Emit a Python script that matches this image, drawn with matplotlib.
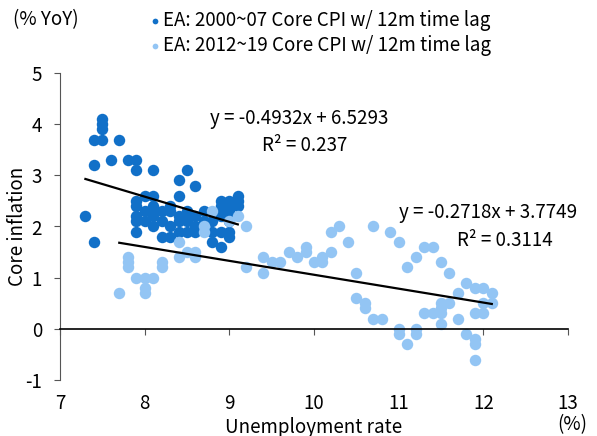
import matplotlib
matplotlib.use('Agg')
import matplotlib.pyplot as plt
import numpy as np

plt.rcParams['font.family'] = ['Noto Sans CJK KR', 'DejaVu Sans']
plt.rcParams['axes.unicode_minus'] = False

# EA 2000~07: unemployment rate vs core CPI (12m lag)
x_old = [7.3, 7.4, 7.4, 7.4, 7.5, 7.5, 7.5, 7.5, 7.6, 7.7, 7.8, 7.9, 7.9, 8.1, 8.4, 8.5, 8.6, 8.4, 8.1,
         7.9, 7.9, 7.9, 7.9, 7.9,
         8.0, 8.0, 8.0,
         8.1, 8.1, 8.1, 8.1,
         8.2, 8.2, 8.2,
         8.3, 8.3, 8.3, 8.3,
         8.4, 8.4, 8.4,
         8.5, 8.5, 8.5, 8.5,
         8.6, 8.6, 8.6,
         8.7, 8.7, 8.7,
         8.8, 8.8, 8.8,
         8.9, 8.9, 8.9, 8.9, 8.9, 8.9,
         9.0, 9.0, 9.0, 9.0, 9.0, 9.0, 9.0,
         9.1, 9.1, 9.1]
y_old = [2.2, 1.7, 3.2, 3.7, 3.7, 3.9, 4.0, 4.1, 3.3, 3.7, 3.3, 3.3, 3.1, 3.1, 2.9, 3.1, 2.8, 2.6, 2.6,
         2.5, 2.4, 2.2, 2.1, 1.9,
         2.6, 2.3, 2.1,
         2.4, 2.3, 2.2, 2.0,
         2.3, 2.1, 1.8,
         2.4, 2.3, 2.0, 1.8,
         2.2, 2.1, 1.9,
         2.3, 2.2, 2.1, 1.9,
         2.2, 2.0, 1.9,
         2.3, 2.1, 2.0,
         2.1, 1.9, 1.7,
         2.5, 2.4, 2.3, 2.2, 1.9, 1.6,
         2.5, 2.4, 2.3, 2.2, 2.1, 1.9, 1.8,
         2.6, 2.5, 2.4]

# EA 2012~19
x_new = [7.7, 7.8, 7.8, 7.8, 7.9, 8.0, 8.1, 8.0, 8.0, 8.2, 8.2, 8.4, 8.4, 8.5, 8.6, 8.6, 8.7,
         8.7, 8.8, 9.0, 9.1, 9.2, 9.2, 9.4, 9.4,
         9.5, 9.6, 9.7, 9.8, 9.9, 9.9, 10.0, 10.1, 10.1, 10.2, 10.2, 10.3, 10.4, 10.5,
         10.5, 10.6, 10.6, 10.7, 10.8, 10.7, 10.9, 11.0, 11.1, 11.2,
         11.0, 11.0, 11.1, 11.2, 11.2, 11.3, 11.4, 11.3, 11.4,
         11.5, 11.6, 11.8, 11.9, 12.0, 12.1, 12.1, 12.0, 12.0, 11.9, 11.7, 11.7, 11.6,
         11.5, 11.5, 11.5, 11.5, 11.8, 11.9, 11.9, 11.9]
y_new = [0.7, 1.4, 1.3, 1.2, 1.0, 1.0, 1.0, 0.8, 0.7, 1.3, 1.2, 1.7, 1.4, 1.5, 1.5, 1.4, 1.9,
         2.0, 2.3, 2.1, 2.2, 2.0, 1.2, 1.4, 1.1,
         1.3, 1.3, 1.5, 1.4, 1.6, 1.5, 1.3, 1.4, 1.3, 1.5, 1.9, 2.0, 1.7, 1.1,
         0.6, 0.5, 0.4, 0.2, 0.2, 2.0, 1.9, 1.7, 1.2, 1.4,
         0.0, -0.1, -0.3, 0.0, -0.1, 0.3, 0.3, 1.6, 1.6,
         1.3, 1.1, 0.9, 0.8, 0.8, 0.7, 0.5, 0.5, 0.3, 0.3, 0.7, 0.2, 0.5,
         0.5, 0.4, 0.3, 0.1, -0.1, -0.2, -0.3, -0.6]

# trend lines as printed on the chart
fit_old = [-0.4932, 6.5293]
fit_new = [-0.2718, 3.7749]

dark = '#1170C8'
light = '#93C5F4'
fs = 13.5

fig = plt.figure(figsize=(5.97, 4.36), dpi=100)
ax = fig.add_axes([60/597, 1-380/436, 508/597, 307/436])

ax.scatter(x_old, y_old, s=68, color=dark, linewidths=0, zorder=2,
           label='EA: 2000~07 Core CPI w/ 12m time lag')
ax.scatter(x_new, y_new, s=68, color=light, linewidths=0, zorder=2,
           label='EA: 2012~19 Core CPI w/ 12m time lag')

# regression lines over each sample's range
xs = np.array([min(x_old), max(x_old)])
ax.plot(xs, np.polyval(fit_old, xs), color='black', lw=1.6, zorder=3)
xs = np.array([min(x_new), max(x_new)])
ax.plot(xs, np.polyval(fit_new, xs), color='black', lw=1.6, zorder=3)

ax.text(9.83, 4.12, 'y = -0.4932x + 6.5293', ha='center', va='center', fontsize=fs)
ax.text(10.39, 3.59, 'R² = 0.237', ha='right', va='center', fontsize=fs)
ax.text(12.05, 2.28, 'y = -0.2718x + 3.7749', ha='center', va='center', fontsize=fs)
ax.text(12.82, 1.73, 'R² = 0.3114', ha='right', va='center', fontsize=fs)

ax.set_xlim(7, 13)
ax.set_ylim(-1, 5)
ax.set_xticks(range(7, 14))
ax.set_yticks(range(-1, 6))

ax.spines['top'].set_visible(False)
ax.spines['right'].set_visible(False)
ax.spines['bottom'].set_position(('data', 0))
ax.spines['bottom'].set_linewidth(1.2)
ax.spines['left'].set_color('#555555')
ax.tick_params(axis='x', length=4, pad=42, labelsize=fs, color='#555555')
ax.tick_params(axis='y', length=4, pad=9, labelsize=fs, color='#555555')

ax.set_xlabel('Unemployment rate', fontsize=fs, labelpad=2)
ax.set_ylabel('Core inflation', fontsize=fs)
ax.yaxis.set_label_coords(-32/508, 0.5)

fig.text(13/597, 1-20/436, '(% YoY)', fontsize=fs, va='center', ha='left')
fig.text(572/597, 1-425/436, '(%)', fontsize=fs, va='center', ha='center')

leg = ax.legend(loc='upper left', bbox_to_anchor=(137/597, 1.0), bbox_transform=fig.transFigure,
                frameon=False, fontsize=fs, handletextpad=0.05, handlelength=0.8,
                markerscale=0.5, labelspacing=0.2, borderaxespad=0.15)

fig.savefig('out.png', dpi=100)
